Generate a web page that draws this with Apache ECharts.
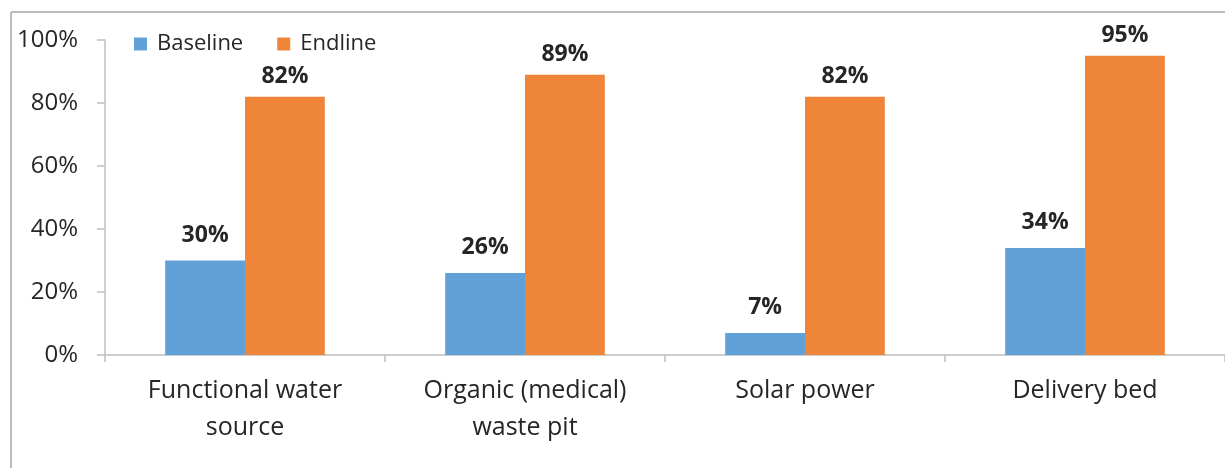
<!DOCTYPE html>
<html>
<head>
<meta charset="utf-8">
<script src="https://cdn.jsdelivr.net/npm/echarts@6/dist/echarts.min.js"></script>
<style>
  html, body { margin: 0; padding: 0; background: #fff; }
  #chart { width: 1225px; height: 468px; }
</style>
</head>
<body>
<div id="chart"></div>
<script>
// Facility indicators, share of facilities at baseline and endline
const categories = ['Functional water\nsource', 'Organic (medical)\nwaste pit', 'Solar power', 'Delivery bed'];
const baseline = [30, 26, 7, 34];
const endline = [82, 89, 82, 95];
const yTicks = [0, 20, 40, 60, 80, 100];

const FONT = '"Open Sans", Lato, sans-serif';
const TEXT = '#262626';
const AXIS = '#bfbfbf';

const chart = echarts.init(document.getElementById('chart'), null, { renderer: 'canvas' });

// Bold percentage label above each bar
const valueLabel = (distance) => ({
  show: true,
  position: 'top',
  distance: distance,
  formatter: p => p.value + '%',
  fontFamily: FONT,
  fontSize: 23,
  fontWeight: 'bold',
  color: TEXT
});

chart.setOption({
  animation: false,
  backgroundColor: '#fff',
  graphic: [
    { type: 'line', shape: { x1: 11, y1: 12, x2: 1225, y2: 12 }, style: { stroke: '#a6a6a6', lineWidth: 1.5 } },
    { type: 'line', shape: { x1: 11, y1: 12, x2: 11, y2: 468 }, style: { stroke: '#a6a6a6', lineWidth: 1.5 } }
  ],
  legend: {
    left: 129,
    top: 28,
    itemWidth: 13,
    itemHeight: 13,
    itemGap: 34,
    icon: 'rect',
    textStyle: { fontFamily: FONT, fontSize: 22, color: TEXT, padding: [0, 0, 0, 5] },
    data: ['Baseline', 'Endline']
  },
  grid: { left: 105, right: 0, top: 40, bottom: 113, containLabel: false },
  xAxis: {
    type: 'category',
    data: categories,
    axisLine: { show: true, lineStyle: { color: AXIS, width: 1.5 } },
    axisTick: { show: true, length: 7, lineStyle: { color: AXIS, width: 1.5 } },
    axisLabel: {
      fontFamily: FONT,
      fontSize: 25,
      color: TEXT,
      margin: 17,
      lineHeight: 37,
      interval: 0
    }
  },
  yAxis: {
    type: 'value',
    min: 0,
    max: 100,
    interval: 20,
    splitLine: { show: false },
    axisLine: { show: true, lineStyle: { color: AXIS, width: 1.5 } },
    axisTick: { show: true, length: 8, lineStyle: { color: AXIS, width: 1.5 } },
    axisLabel: {
      fontFamily: FONT,
      fontSize: 24,
      color: TEXT,
      margin: 27,
      formatter: v => (yTicks.includes(v) ? v + '%' : '')
    }
  },
  series: [
    {
      name: 'Baseline',
      type: 'bar',
      data: baseline,
      barGap: '0%',
      barCategoryGap: '43%',
      itemStyle: { color: '#62a0d8' },
      label: valueLabel(14)
    },
    {
      name: 'Endline',
      type: 'bar',
      data: endline,
      barGap: '0%',
      barCategoryGap: '43%',
      itemStyle: { color: '#ee8538' },
      label: valueLabel(9)
    }
  ]
});
</script>
</body>
</html>
